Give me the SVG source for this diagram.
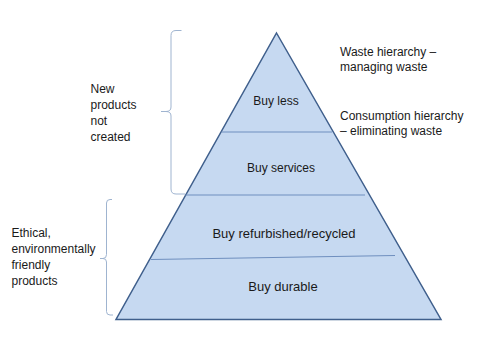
<svg xmlns="http://www.w3.org/2000/svg" width="480" height="360" viewBox="0 0 480 360">
<style>
text{font-family:"Liberation Sans",Arial,sans-serif;font-size:12px;fill:#1a1a1a}
.c{text-anchor:middle}
.big{font-size:13px}
.div{stroke:#6f8fbf;stroke-width:1;fill:none}
.brace{stroke:#9fb4d0;stroke-width:1;fill:none}
</style>
<rect width="480" height="360" fill="#ffffff"/>
<g id="pyramid">
<polygon points="276.5,33 441,319.5 116,319.5" fill="#c6d9f1" stroke="#3f5f8c" stroke-width="1.5" stroke-linejoin="miter"/>
</g>
<g id="connectors">
<line class="div" x1="221.5" y1="132" x2="332" y2="132"/>
<line class="div" x1="185.5" y1="195" x2="365" y2="195"/>
<line class="div" x1="151" y1="259.5" x2="395" y2="255.5"/>
<path class="brace" d="M181.5,30.5 H176 Q171,30.5 171,35.5 V107 Q171,111.5 166,111.5 H161 H166 Q171,111.5 171,116 V189 Q171,194 176,194 H185"/>
<path class="brace" d="M112,199.5 H110 Q106.5,199.5 106.5,203 V254.5 Q106.5,258.5 103,258.5 H100 H103 Q106.5,258.5 106.5,262 V311.5 Q106.5,315 110,315 H113"/>
</g>
<g id="tier-buy-less"><text class="c" x="276" y="105">Buy less</text></g>
<g id="tier-buy-services"><text class="c" x="281" y="172">Buy services</text></g>
<g id="tier-buy-refurbished"><text class="c big" x="284" y="238">Buy refurbished/recycled</text></g>
<g id="tier-buy-durable"><text class="c big" x="283" y="290.5">Buy durable</text></g>
<g id="label-new-products">
<text x="90.5" y="93">New</text>
<text x="90.5" y="109">products</text>
<text x="90.5" y="125">not</text>
<text x="90.5" y="141">created</text>
</g>
<g id="label-ethical">
<text x="11.5" y="237">Ethical,</text>
<text x="11.5" y="253">environmentally</text>
<text x="11.5" y="269">friendly</text>
<text x="11.5" y="285">products</text>
</g>
<g id="label-waste">
<text x="340" y="55.5">Waste hierarchy –</text>
<text x="340" y="71">managing waste</text>
</g>
<g id="label-consumption">
<text x="340" y="120">Consumption hierarchy</text>
<text x="340" y="135">– eliminating waste</text>
</g>
</svg>
